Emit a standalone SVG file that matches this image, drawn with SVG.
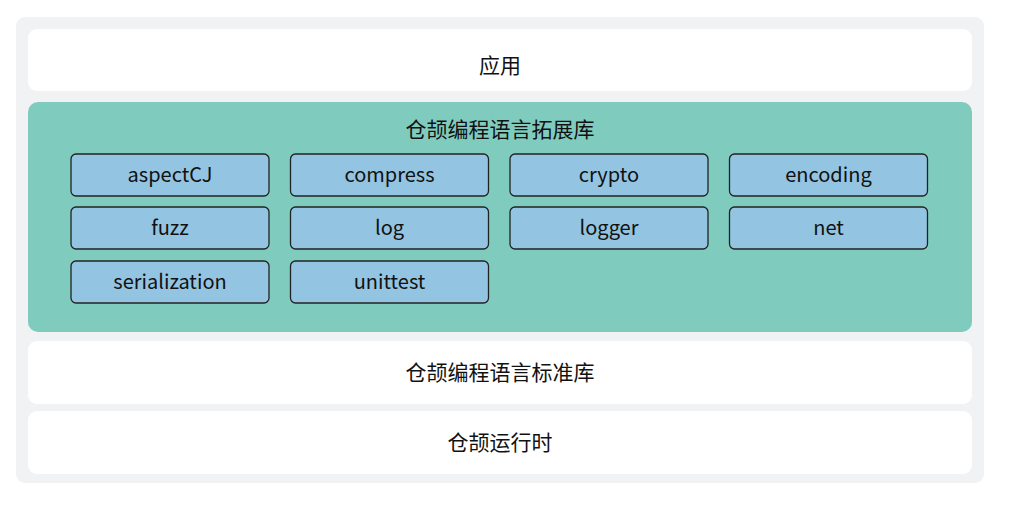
<svg xmlns="http://www.w3.org/2000/svg" width="1012" height="505" viewBox="0 0 1012 505">
<style>
.t{font-family:"Noto Sans CJK SC","Noto Sans",sans-serif;font-size:20px;fill:#111;text-anchor:middle;dominant-baseline:central}
.c{font-size:21px}
.m{fill:#93c4e1;stroke:#222;stroke-width:1.3}
.w{fill:#fff}
</style>
<rect width="1012" height="505" fill="#fff"/>
<g id="outer"><rect x="16" y="17" width="968" height="466" rx="9" fill="#f1f2f4"/></g>
<g id="app"><rect class="w" x="28" y="29" width="944" height="62" rx="9"/><text class="t c" x="500" y="64">应用</text></g>
<g id="ext"><rect x="28" y="102" width="944" height="230" rx="10" fill="#7fccbf"/><text class="t c" x="500" y="128">仓颉编程语言拓展库</text></g>
<g id="aspectCJ"><rect class="m" x="71" y="154" width="198" height="42" rx="5"/><text class="t" x="170" y="173.5">aspectCJ</text></g>
<g id="compress"><rect class="m" x="290.5" y="154" width="198" height="42" rx="5"/><text class="t" x="389.5" y="173.5">compress</text></g>
<g id="crypto"><rect class="m" x="510" y="154" width="198" height="42" rx="5"/><text class="t" x="609" y="173.5">crypto</text></g>
<g id="encoding"><rect class="m" x="729.5" y="154" width="198" height="42" rx="5"/><text class="t" x="828.5" y="173.5">encoding</text></g>
<g id="fuzz"><rect class="m" x="71" y="207" width="198" height="42" rx="5"/><text class="t" x="170" y="226.5">fuzz</text></g>
<g id="log"><rect class="m" x="290.5" y="207" width="198" height="42" rx="5"/><text class="t" x="389.5" y="226.5">log</text></g>
<g id="logger"><rect class="m" x="510" y="207" width="198" height="42" rx="5"/><text class="t" x="609" y="226.5">logger</text></g>
<g id="net"><rect class="m" x="729.5" y="207" width="198" height="42" rx="5"/><text class="t" x="828.5" y="226.5">net</text></g>
<g id="serialization"><rect class="m" x="71" y="261" width="198" height="42" rx="5"/><text class="t" x="170" y="280.5">serialization</text></g>
<g id="unittest"><rect class="m" x="290.5" y="261" width="198" height="42" rx="5"/><text class="t" x="389.5" y="280.5">unittest</text></g>
<g id="std"><rect class="w" x="28" y="341" width="944" height="63" rx="9"/><text class="t c" x="500" y="371">仓颉编程语言标准库</text></g>
<g id="runtime"><rect class="w" x="28" y="411" width="944" height="63" rx="9"/><text class="t c" x="500" y="441">仓颉运行时</text></g>
<g id="connectors"></g>
</svg>
